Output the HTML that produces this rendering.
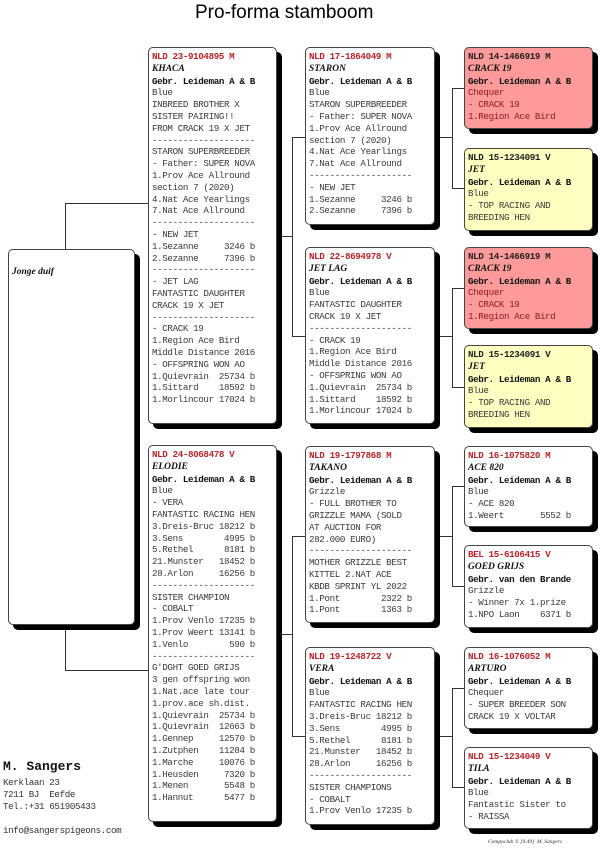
<!DOCTYPE html>
<html><head><meta charset="utf-8"><style>
*{margin:0;padding:0;box-sizing:border-box}
body{width:600px;height:861px;background:#fff;position:relative;overflow:hidden;font-family:"Liberation Mono",monospace;color:#333}
.b{position:absolute;background:#fff;border:1px solid #444;border-radius:5px;box-shadow:5px 5px 0 #000;padding:3px 0 0 3px;font-size:9.2px;letter-spacing:-0.37px;line-height:11.8px;white-space:pre;color:#3a3a3a}
.r{background:#ff9a9a}.y{background:#ffffc2}
.id{color:#b5262b;font-weight:bold}
.n{font-weight:bold;font-style:italic;color:#111;font-family:"Liberation Serif",serif;font-size:9.5px;letter-spacing:0}
.g{color:#111;font-weight:bold}
.h{position:absolute;height:1px;background:#333}
.v{position:absolute;width:1px;background:#333}
</style></head><body>
<div style="position:absolute;left:195px;top:2px;font-family:'Liberation Sans',sans-serif;font-size:19px;color:#000">Pro-forma stamboom</div>

<div class="v" style="left:65px;top:203px;height:46px"></div>
<div class="h" style="left:65px;top:203px;width:83px"></div>
<div class="v" style="left:65px;top:628px;height:42px"></div>
<div class="h" style="left:65px;top:670px;width:83px"></div>

<div class="h" style="left:282px;top:236px;width:10px"></div>
<div class="v" style="left:292px;top:137px;height:200px"></div>
<div class="h" style="left:292px;top:137px;width:13px"></div>
<div class="h" style="left:292px;top:336px;width:13px"></div>
<div class="h" style="left:282px;top:634px;width:10px"></div>
<div class="v" style="left:292px;top:536px;height:200px"></div>
<div class="h" style="left:292px;top:536px;width:13px"></div>
<div class="h" style="left:292px;top:736px;width:13px"></div>

<div class="h" style="left:440px;top:137px;width:12px"></div>
<div class="v" style="left:452px;top:88px;height:101px"></div>
<div class="h" style="left:452px;top:88px;width:12px"></div>
<div class="h" style="left:452px;top:188px;width:12px"></div>
<div class="h" style="left:440px;top:336px;width:12px"></div>
<div class="v" style="left:452px;top:288px;height:100px"></div>
<div class="h" style="left:452px;top:288px;width:12px"></div>
<div class="h" style="left:452px;top:387px;width:12px"></div>
<div class="h" style="left:440px;top:536px;width:12px"></div>
<div class="v" style="left:452px;top:486px;height:101px"></div>
<div class="h" style="left:452px;top:486px;width:12px"></div>
<div class="h" style="left:452px;top:586px;width:12px"></div>
<div class="h" style="left:440px;top:736px;width:12px"></div>
<div class="v" style="left:452px;top:688px;height:100px"></div>
<div class="h" style="left:452px;top:688px;width:12px"></div>
<div class="h" style="left:452px;top:787px;width:12px"></div>

<div class="b" style="left:8px;top:249px;width:127px;height:376px;padding-top:16px"><span class="n">Jonge duif</span></div>

<div class="b" style="left:148px;top:47px;width:129px;height:377px"><span class="id">NLD 23-9104895 M</span>
<span class="n">KHACA</span>
<span class="g">Gebr. Leideman A &amp; B</span>
Blue
INBREED BROTHER X
SISTER PAIRING!!
FROM CRACK 19 X JET
--------------------
STARON SUPERBREEDER
- Father: SUPER NOVA
1.Prov Ace Allround
section 7 (2020)
4.Nat Ace Yearlings
7.Nat Ace Allround
--------------------
- NEW JET
1.Sezanne     3246 b
2.Sezanne     7396 b
--------------------
- JET LAG
FANTASTIC DAUGHTER
CRACK 19 X JET
--------------------
- CRACK 19
1.Region Ace Bird
Middle Distance 2016
- OFFSPRING WON AO
1.Quievrain  25734 b
1.Sittard    18592 b
1.Morlincour 17024 b</div>

<div class="b" style="left:148px;top:445px;width:129px;height:377px"><span class="id">NLD 24-8068478 V</span>
<span class="n">ELODIE</span>
<span class="g">Gebr. Leideman A &amp; B</span>
Blue
- VERA
FANTASTIC RACING HEN
3.Dreis-Bruc 18212 b
3.Sens        4995 b
5.Rethel      8181 b
21.Munster   18452 b
28.Arlon     16256 b
--------------------
SISTER CHAMPION
- COBALT
1.Prov Venlo 17235 b
1.Prov Weert 13141 b
1.Venlo        590 b
--------------------
G'DGHT GOED GRIJS
3 gen offspring won
1.Nat.ace late tour
1.prov.ace sh.dist.
1.Quievrain  25734 b
1.Quievrain  12663 b
1.Gennep     12570 b
1.Zutphen    11284 b
1.Marche     10076 b
1.Heusden     7320 b
1.Menen       5548 b
1.Hannut      5477 b</div>

<div class="b" style="left:305px;top:47px;width:130px;height:178px"><span class="id">NLD 17-1864049 M</span>
<span class="n">STARON</span>
<span class="g">Gebr. Leideman A &amp; B</span>
Blue
STARON SUPERBREEDER
- Father: SUPER NOVA
1.Prov Ace Allround
section 7 (2020)
4.Nat Ace Yearlings
7.Nat Ace Allround
--------------------
- NEW JET
1.Sezanne     3246 b
2.Sezanne     7396 b</div>

<div class="b" style="left:305px;top:247px;width:130px;height:177px"><span class="id">NLD 22-8694978 V</span>
<span class="n">JET LAG</span>
<span class="g">Gebr. Leideman A &amp; B</span>
Blue
FANTASTIC DAUGHTER
CRACK 19 X JET
--------------------
- CRACK 19
1.Region Ace Bird
Middle Distance 2016
- OFFSPRING WON AO
1.Quievrain  25734 b
1.Sittard    18592 b
1.Morlincour 17024 b</div>

<div class="b" style="left:305px;top:446px;width:130px;height:177px"><span class="id">NLD 19-1797868 M</span>
<span class="n">TAKANO</span>
<span class="g">Gebr. Leideman A &amp; B</span>
Grizzle
- FULL BROTHER TO
GRIZZLE MAMA (SOLD
AT AUCTION FOR
282.000 EURO)
--------------------
MOTHER GRIZZLE BEST
KITTEL 2.NAT ACE
KBDB SPRINT YL 2022
1.Pont        2322 b
1.Pont        1363 b</div>

<div class="b" style="left:305px;top:647px;width:130px;height:178px"><span class="id">NLD 19-1248722 V</span>
<span class="n">VERA</span>
<span class="g">Gebr. Leideman A &amp; B</span>
Blue
FANTASTIC RACING HEN
3.Dreis-Bruc 18212 b
3.Sens        4995 b
5.Rethel      8181 b
21.Munster   18452 b
28.Arlon     16256 b
--------------------
SISTER CHAMPIONS
- COBALT
1.Prov Venlo 17235 b</div>

<div class="b r" style="left:464px;top:47px;width:129px;height:82px"><span class="id" style="color:#222">NLD 14-1466919 M</span>
<span class="n">CRACK 19</span>
<span class="g">Gebr. Leideman A &amp; B</span>
<span style="color:#8a1a1a">Chequer
- CRACK 19
1.Region Ace Bird</span></div>

<div class="b y" style="left:464px;top:148px;width:129px;height:83px"><span class="id" style="color:#222">NLD 15-1234091 V</span>
<span class="n">JET</span>
<span class="g">Gebr. Leideman A &amp; B</span>
Blue
- TOP RACING AND
BREEDING HEN</div>

<div class="b r" style="left:464px;top:247px;width:129px;height:82px"><span class="id" style="color:#222">NLD 14-1466919 M</span>
<span class="n">CRACK 19</span>
<span class="g">Gebr. Leideman A &amp; B</span>
<span style="color:#8a1a1a">Chequer
- CRACK 19
1.Region Ace Bird</span></div>

<div class="b y" style="left:464px;top:345px;width:129px;height:83px"><span class="id" style="color:#222">NLD 15-1234091 V</span>
<span class="n">JET</span>
<span class="g">Gebr. Leideman A &amp; B</span>
Blue
- TOP RACING AND
BREEDING HEN</div>

<div class="b" style="left:464px;top:446px;width:129px;height:81px"><span class="id">NLD 16-1075820 M</span>
<span class="n">ACE 820</span>
<span class="g">Gebr. Leideman A &amp; B</span>
Blue
- ACE 820
1.Weert       5552 b</div>

<div class="b" style="left:464px;top:545px;width:129px;height:83px"><span class="id">BEL 15-6106415 V</span>
<span class="n">GOED GRIJS</span>
<span class="g">Gebr. van den Brande</span>
Grizzle
- Winner 7x 1.prize
1.NPO Laon    6371 b</div>

<div class="b" style="left:464px;top:647px;width:129px;height:82px"><span class="id">NLD 16-1076052 M</span>
<span class="n">ARTURO</span>
<span class="g">Gebr. Leideman A &amp; B</span>
Chequer
- SUPER BREEDER SON
CRACK 19 X VOLTAR</div>

<div class="b" style="left:464px;top:747px;width:129px;height:82px"><span class="id">NLD 15-1234049 V</span>
<span class="n">TILA</span>
<span class="g">Gebr. Leideman A &amp; B</span>
Blue
Fantastic Sister to
- RAISSA</div>

<div style="position:absolute;left:3px;top:759px;font-size:13px;font-weight:bold;color:#111">M. Sangers</div>
<div style="position:absolute;left:3px;top:777px;font-size:9.2px;letter-spacing:-0.37px;line-height:12px;white-space:pre;color:#333">Kerklaan 23
7211 BJ  Eefde
Tel.:+31 651905433

info@sangerspigeons.com</div>
<div style="position:absolute;left:488px;top:839px;font-size:5.5px;font-style:italic;color:#333;font-family:'Liberation Serif',serif;white-space:pre">Compuclub © [9.49]  M. Sangers</div>
</body></html>
